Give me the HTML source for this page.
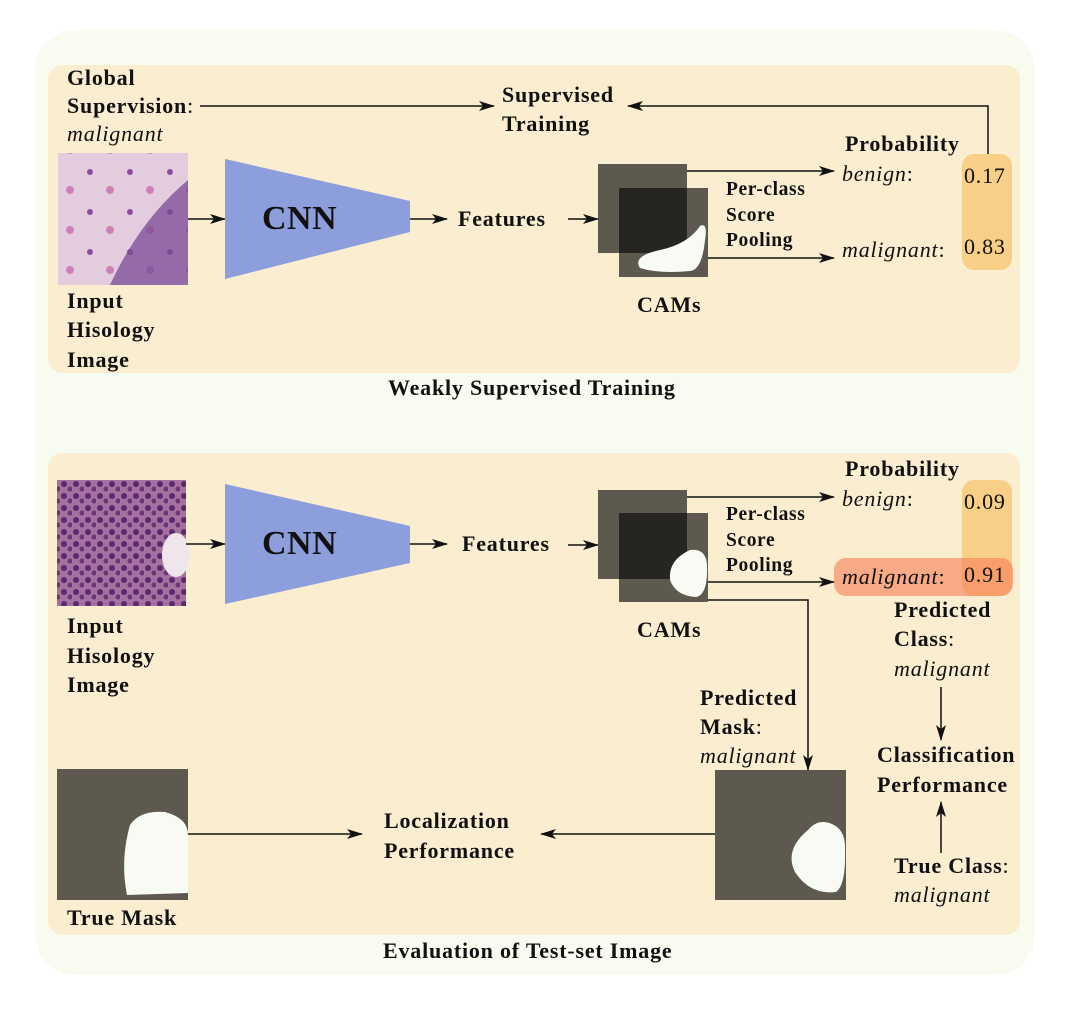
<!DOCTYPE html>
<html><head><meta charset="utf-8"><style>
html,body{margin:0;padding:0;background:#fff}
svg text{font-family:"Liberation Serif",serif;font-size:22px;letter-spacing:0.8px;fill:#111}
.b{font-weight:bold}
.i{font-style:italic}
.s{font-size:19.5px;letter-spacing:0.6px}
</style></head><body>
<svg width="1070" height="1018" viewBox="0 0 1070 1018" xmlns="http://www.w3.org/2000/svg">
<defs>
<marker id="ar" markerWidth="16" markerHeight="10" refX="15" refY="5" orient="auto" markerUnits="userSpaceOnUse">
<path d="M0,0 L16,5 L0,10 L4,5 z" fill="#111"/></marker>
<pattern id="h1" width="40" height="40" patternUnits="userSpaceOnUse">
<rect width="40" height="40" fill="#e4ccdf"/>
<circle cx="10" cy="12" r="3" fill="#8a4d9c"/><circle cx="30" cy="30" r="4" fill="#d080b8"/>
</pattern>
<pattern id="h2" width="12" height="12" patternUnits="userSpaceOnUse">
<rect width="12" height="12" fill="#a670a0"/>
<circle cx="4" cy="4" r="3" fill="#5a2a6e"/><circle cx="10" cy="9" r="2.5" fill="#6b3378"/>
</pattern>
</defs>
<rect x="35" y="30" width="1000" height="945" rx="40" fill="#f8fcf0"/>
<rect x="48" y="65" width="972" height="308" rx="14" fill="#faedd0"/>
<rect x="48" y="453" width="972" height="482" rx="14" fill="#faedd0"/>

<!-- TOP -->
<text class="b" x="67" y="85">Global</text>
<text class="b" x="67" y="113">Supervision<tspan style="font-weight:normal">:</tspan></text>
<text class="i" x="67" y="141">malignant</text>
<line x1="200" y1="106" x2="494" y2="106" stroke="#111" stroke-width="1.5" marker-end="url(#ar)"/>
<text class="b" x="502" y="102">Supervised</text>
<text class="b" x="502" y="131">Training</text>
<polyline points="988,154 988,106 628,106" fill="none" stroke="#111" stroke-width="1.5" marker-end="url(#ar)"/>

<rect x="58" y="153" width="130" height="132" fill="url(#h1)"/>
<path d="M110,285 Q140,220 188,180 L188,285 z" fill="#7a4a96" opacity="0.75"/>
<line x1="188" y1="219" x2="225" y2="219" stroke="#111" stroke-width="1.5" marker-end="url(#ar)"/>
<polygon points="225,159 410,201 410,232 225,279" fill="#8c9fdc"/>
<text class="b" x="262" y="229" style="font-size:34px;letter-spacing:0.5px">CNN</text>
<line x1="410" y1="219" x2="447" y2="219" stroke="#111" stroke-width="1.5" marker-end="url(#ar)"/>
<text class="b" x="458" y="226">Features</text>
<line x1="568" y1="219" x2="598" y2="219" stroke="#111" stroke-width="1.5" marker-end="url(#ar)"/>
<rect x="598" y="164" width="89" height="89" fill="#5d594f"/>
<rect x="619" y="188" width="89" height="89" fill="#5d594f"/>
<rect x="619" y="188" width="68" height="65" fill="#262521"/>
<path d="M640,268 Q632,256 660,250 Q688,244 700,226 Q708,222 705,240 Q702,270 690,271 Q660,274 640,268 z" fill="#f8fbf4"/>
<line x1="687" y1="171" x2="834" y2="171" stroke="#111" stroke-width="1.5" marker-end="url(#ar)"/>
<line x1="708" y1="258" x2="834" y2="258" stroke="#111" stroke-width="1.5" marker-end="url(#ar)"/>
<text class="b s" x="726" y="195">Per-class</text>
<text class="b s" x="726" y="221">Score</text>
<text class="b s" x="726" y="246">Pooling</text>
<text class="b" x="637" y="312">CAMs</text>
<text class="b" x="845" y="151">Probability</text>
<rect x="962" y="154" width="50" height="116" rx="12" fill="#f7cf86"/>
<text class="i" x="842" y="181">benign<tspan style="font-style:normal">:</tspan></text>
<text x="964" y="183">0.17</text>
<text class="i" x="842" y="257">malignant<tspan style="font-style:normal">:</tspan></text>
<text x="964" y="254">0.83</text>
<text class="b" x="67" y="308">Input</text>
<text class="b" x="67" y="337">Hisology</text>
<text class="b" x="67" y="367">Image</text>
<text class="b" x="388" y="395">Weakly Supervised Training</text>

<!-- BOTTOM -->
<rect x="57" y="480" width="129" height="126" fill="url(#h2)"/>
<ellipse cx="176" cy="555" rx="14" ry="22" fill="#efe6ec"/>
<line x1="186" y1="544" x2="225" y2="544" stroke="#111" stroke-width="1.5" marker-end="url(#ar)"/>
<polygon points="225,484 410,526 410,563 225,604" fill="#8c9fdc"/>
<text class="b" x="262" y="554" style="font-size:34px;letter-spacing:0.5px">CNN</text>
<line x1="410" y1="544" x2="447" y2="544" stroke="#111" stroke-width="1.5" marker-end="url(#ar)"/>
<text class="b" x="462" y="551">Features</text>
<line x1="568" y1="545" x2="598" y2="545" stroke="#111" stroke-width="1.5" marker-end="url(#ar)"/>
<rect x="598" y="490" width="89" height="89" fill="#5d594f"/>
<rect x="619" y="513" width="89" height="89" fill="#5d594f"/>
<rect x="619" y="513" width="68" height="66" fill="#262521"/>
<path d="M690,550 Q706,548 707,565 Q708,595 696,597 Q676,596 670,580 Q668,560 690,550 z" fill="#f8fbf4"/>
<line x1="687" y1="497" x2="834" y2="497" stroke="#111" stroke-width="1.5" marker-end="url(#ar)"/>
<text class="b s" x="726" y="520">Per-class</text>
<text class="b s" x="726" y="546">Score</text>
<text class="b s" x="726" y="571">Pooling</text>
<text class="b" x="637" y="637">CAMs</text>
<text class="b" x="845" y="476">Probability</text>
<rect x="962" y="480" width="50" height="116" rx="12" fill="#f7cf86"/>
<rect x="834" y="558" width="179" height="38" rx="12" fill="#f8845c" opacity="0.65"/>
<line x1="708" y1="582" x2="834" y2="582" stroke="#111" stroke-width="1.5" marker-end="url(#ar)"/>
<text class="i" x="842" y="506">benign<tspan style="font-style:normal">:</tspan></text>
<text x="964" y="509">0.09</text>
<text class="i" x="842" y="584">malignant<tspan style="font-style:normal">:</tspan></text>
<text x="964" y="582">0.91</text>
<polyline points="708,600 808,600 808,770" fill="none" stroke="#111" stroke-width="1.5" marker-end="url(#ar)"/>
<text class="b" x="894" y="617">Predicted</text>
<text class="b" x="894" y="646">Class<tspan style="font-weight:normal">:</tspan></text>
<text class="i" x="894" y="676">malignant</text>
<line x1="941" y1="687" x2="941" y2="740" stroke="#111" stroke-width="1.5" marker-end="url(#ar)"/>
<text class="b" x="877" y="762">Classification</text>
<text class="b" x="877" y="792">Performance</text>
<line x1="941" y1="853" x2="941" y2="802" stroke="#111" stroke-width="1.5" marker-end="url(#ar)"/>
<text class="b" x="894" y="873">True Class<tspan style="font-weight:normal">:</tspan></text>
<text class="i" x="894" y="902">malignant</text>
<text class="b" x="67" y="633">Input</text>
<text class="b" x="67" y="663">Hisology</text>
<text class="b" x="67" y="692">Image</text>
<text class="b" x="700" y="705">Predicted</text>
<text class="b" x="700" y="734">Mask<tspan style="font-weight:normal">:</tspan></text>
<text class="i" x="700" y="763">malignant</text>
<rect x="715" y="770" width="131" height="130" fill="#5d594f"/>
<path d="M808,830 Q818,818 832,824 Q846,830 845,850 Q846,885 836,892 Q810,895 795,872 Q784,850 808,830 z" fill="#f8fbf4"/>
<rect x="57" y="769" width="131" height="131" fill="#5d594f"/>
<path d="M130,825 Q140,810 165,812 Q188,818 188,835 L188,893 L127,895 Q120,860 130,825 z" fill="#f8fbf4"/>
<line x1="188" y1="834" x2="362" y2="834" stroke="#111" stroke-width="1.5" marker-end="url(#ar)"/>
<line x1="715" y1="834" x2="541" y2="834" stroke="#111" stroke-width="1.5" marker-end="url(#ar)"/>
<text class="b" x="384" y="828">Localization</text>
<text class="b" x="384" y="858">Performance</text>
<text class="b" x="67" y="925">True Mask</text>
<text class="b" x="383" y="958">Evaluation of Test-set Image</text>
</svg>
</body></html>
